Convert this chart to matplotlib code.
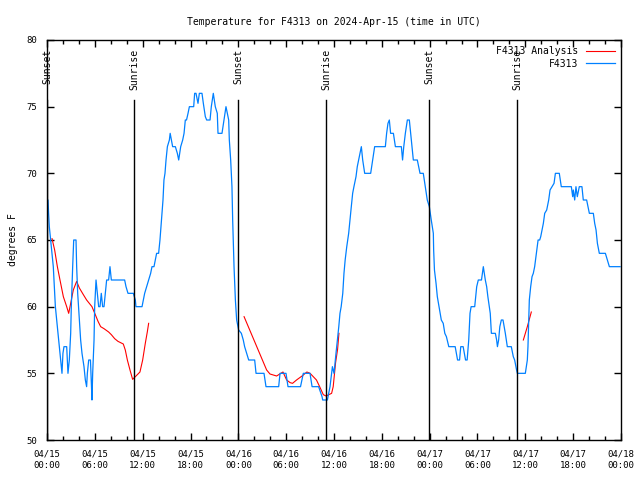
import numpy as np
import matplotlib
matplotlib.use("Agg")
import matplotlib.pyplot as plt
from matplotlib.ticker import MultipleLocator

plt.rcParams["font.family"] = "DejaVu Sans Mono"
plt.rcParams["font.size"] = 7

# hours since 2024-04-15 00:00 UTC
obs_hours = [0.05, 0.13, 0.2, 0.29, 0.46, 0.63, 0.79, 0.88, 1.05, 1.21, 1.38, 1.55, 1.71, 1.88,
             2.0, 2.13, 2.47, 2.55, 2.63, 2.8, 2.97, 3.05, 3.22, 3.35, 3.64, 3.72, 3.85, 4.06,
             4.22, 4.39, 4.64, 4.81, 4.97, 5.06, 5.23, 5.45, 5.52, 5.58, 5.64, 5.73, 5.9, 5.98,
             6.15, 6.31, 6.48, 6.65, 6.81, 6.98, 7.15, 7.32, 7.48, 7.73, 7.9, 8.07, 8.15, 9.74,
             9.91, 10.16, 10.83, 11.08, 11.16, 11.92, 12.08, 12.25, 12.5, 12.75, 13.0, 13.17,
             13.42, 13.59, 13.75, 14.0, 14.17, 14.3, 14.42, 14.55, 14.67, 14.8, 14.93, 15.1,
             15.35, 15.45, 15.6, 15.76, 16.1, 16.35, 16.52, 16.77, 17.02, 17.19, 17.35, 17.5,
             17.69, 17.86, 18.4, 18.52, 18.69, 18.94, 19.11, 19.44, 19.61, 19.86, 20.03, 20.45,
             20.61, 20.86, 21.11, 21.36, 21.45, 21.95, 22.2, 22.45, 22.62, 22.79, 22.87, 23.04,
             23.2, 23.29, 23.46, 23.63, 23.79, 24.04, 24.38, 24.62, 24.79, 25.3, 26.05, 26.22,
             27.22, 27.47, 29.06, 29.23, 29.98, 30.23, 31.8, 32.15, 32.99, 33.25, 34.07, 34.5,
             34.58, 35.17, 35.5, 35.8, 36.0, 36.25, 36.6, 36.75, 36.9, 37.1, 37.25, 37.4, 37.6,
             37.84, 38.0, 38.17, 38.34, 38.5, 38.76, 38.92, 39.17, 39.43, 39.6, 39.85, 40.6,
             40.85, 41.1, 42.44, 42.6, 42.77, 42.94, 43.1, 43.45, 43.7, 44.45, 44.6, 44.75,
             44.95, 45.2, 45.45, 45.62, 45.79, 45.95, 46.45, 46.62, 46.79, 47.2, 47.45, 47.7,
             47.96, 48.2, 48.46, 48.5, 48.6, 48.8, 48.96, 49.1, 49.3, 49.46, 49.7, 49.9, 50.1,
             50.4, 51.2, 51.5, 51.75, 51.9, 52.2, 52.5, 52.7, 52.9, 53.06, 53.2, 53.65, 53.9,
             54.1, 54.5, 54.73, 54.98, 55.15, 55.3, 55.6, 55.74, 56.24, 56.4, 56.5, 56.65, 56.8,
             56.99, 57.2, 57.49, 57.74, 58.24, 58.49, 58.66, 58.9, 59.0, 60.0, 60.25, 60.33,
             60.5, 60.67, 60.84, 61.0, 61.17, 61.43, 61.6, 61.8, 61.93, 62.26, 62.43, 62.68,
             62.93, 63.1, 63.35, 63.6, 63.77, 64.26, 64.51, 65.77, 65.94, 66.02, 66.19, 66.35,
             66.52, 66.77, 67.1, 67.27, 67.69, 67.86, 68.03, 68.53, 68.7, 68.87, 69.04, 69.28,
             70.04, 70.29, 70.54, 71.88]
obs_temp = [68, 68, 67, 66, 65, 64, 63, 62, 60, 59, 58, 57, 56, 55,
            56.5, 57, 57, 56, 55, 56, 58, 60, 63, 65, 65, 63, 61, 59,
            57.5, 56.5, 55.5, 54.5, 54, 55, 56, 56, 55, 54, 53, 55, 57.5, 60,
            62, 61, 60, 60, 61, 60, 60, 61, 62, 62, 63, 62, 62, 62,
            61.5, 61, 61, 60.5, 60, 60, 60.5, 61, 61.5, 62, 62.5, 63,
            63, 63.5, 64, 64, 65, 66, 67, 68, 69.5, 70, 71, 72,
            72.5, 73, 72.5, 72, 72, 71.5, 71, 72, 72.5, 73, 74, 74,
            74.5, 75, 75, 76, 76, 75.25, 76, 76, 75.25, 74.25, 74, 74,
            75, 76, 75, 74.5, 73, 73, 74, 75, 74.5, 74, 72.5, 71,
            69, 66.5, 63, 60.5, 59, 58.25, 58, 57.5, 57, 56, 56, 55,
            55, 54, 54, 55, 55, 54, 54, 55, 55, 54, 54, 53.25,
            53, 53, 54, 55.5, 55, 56.5, 58.5, 59.5, 60, 61, 62.5, 63.5, 64.5,
            65.5, 66.5, 67.5, 68.5, 69, 69.75, 70.5, 71.25, 72, 71, 70, 70,
            71, 72, 72, 73, 73.75, 74, 73, 73, 72, 72, 71, 72,
            73, 74, 74, 73, 72, 71, 71, 70.5, 70, 70, 69, 68,
            67.5, 66.5, 65.5, 64.25, 62.75, 61.75, 60.75, 60.25, 59.5, 59, 58.75, 58, 57.75,
            57, 57, 56, 56, 57, 57, 56, 56, 57.5, 59.5, 60, 60, 61.5,
            62, 62, 63, 62, 61.5, 60.75, 59.5, 58, 58, 57.5, 57, 57.5, 58.5,
            59, 59, 58, 57, 57, 56.25, 56, 55.25, 55, 55, 56, 57,
            60.5, 61.5, 62.25, 62.5, 63, 64.25, 65, 65, 65.25, 66.25, 67, 67.25,
            68, 68.75, 69, 69.25, 70, 70, 69, 69, 68.25, 68.75, 68, 69,
            68.25, 69, 69, 68, 68, 67.5, 67, 67, 66.25, 65.75, 64.75, 64,
            64, 63.5, 63, 63]

ana_hours = [0.63, 0.96, 1.3, 1.63, 2.05, 2.47, 2.72, 2.97, 3.3, 3.72, 4.06, 4.56, 4.97,
             5.64, 6.06, 6.4, 6.73, 7.15, 7.73, 8.07, 8.49, 8.9, 9.57, 9.82, 10.08, 10.41,
             10.74, 11.08, 11.66, 12.0, 12.33, 12.58, 12.75, np.nan,
             24.72, 26.1, 27.55, 27.97, 28.8, 29.6, 30.06, 30.5, 30.8, 31.3, 31.99, 32.6,
             33.0, 33.8, 34.2, 34.66, 35.0, 35.7, 35.9, 36.2, 36.45, 36.62, np.nan,
             59.75, 60.25, 60.75]
ana_temp = [65.1, 64.25, 63, 62, 60.75, 60, 59.5, 60.25, 61.25, 61.9, 61.4, 60.9, 60.5,
            60, 59.4, 58.9, 58.5, 58.35, 58.1, 57.9, 57.6, 57.4, 57.2, 56.75, 56, 55.25,
            54.55, 54.75, 55.1, 56, 57.25, 58.1, 58.75, np.nan,
            59.25, 57.3, 55.25, 54.95, 54.8, 55.1, 54.5, 54.3, 54.25, 54.5, 54.8, 55.1,
            55, 54.5, 54, 53.4, 53.3, 53.5, 54, 55.8, 56.8, 58, np.nan,
            57.5, 58.5, 59.6]

sunset_hours = [0.05, 24.0, 47.97]
sunrise_hours = [10.93, 35.0, 59.0]

tick_hours = list(range(0, 73, 6))
tick_labels = ["04/15\n00:00", "04/15\n06:00", "04/15\n12:00", "04/15\n18:00",
               "04/16\n00:00", "04/16\n06:00", "04/16\n12:00", "04/16\n18:00",
               "04/17\n00:00", "04/17\n06:00", "04/17\n12:00", "04/17\n18:00",
               "04/18\n00:00"]

fig = plt.figure(figsize=(6.4, 4.8), dpi=100)
ax = fig.add_axes([47/640, 40/480, 574/640, 400/480])

ax.plot(ana_hours, ana_temp, color="#ff0000", lw=0.8, label="F4313 Analysis")
ax.plot(obs_hours, obs_temp, color="#0080ff", lw=0.9, label="F4313")

for h in sunset_hours:
    ax.axvline(h, ymin=0, ymax=0.85, color="black", lw=1)
    ax.text(h, 0.977, "Sunset", rotation=90, ha="center", va="top",
            transform=ax.get_xaxis_transform())
for h in sunrise_hours:
    ax.axvline(h, ymin=0, ymax=0.85, color="black", lw=1)
    ax.text(h, 0.977, "Sunrise", rotation=90, ha="center", va="top",
            transform=ax.get_xaxis_transform())

ax.set_xlim(0, 72)
ax.set_ylim(50, 80)
ax.set_xticks(tick_hours)
ax.set_xticklabels(tick_labels)
for lbl in ax.get_xticklabels():
    lbl.set_linespacing(1.3)
ax.xaxis.set_minor_locator(MultipleLocator(2))
ax.yaxis.set_major_locator(MultipleLocator(5))
ax.tick_params(which="both", direction="in", top=True, right=True, width=1, labelsize=6.5)
ax.tick_params(which="major", length=5)
ax.tick_params(which="minor", length=3)
ax.tick_params(axis="x", pad=7)
ax.tick_params(axis="y", pad=7)
for s in ax.spines.values():
    s.set_linewidth(1)

ax.set_ylabel("degrees F", labelpad=6)
ax.set_title("Temperature for F4313 on 2024-Apr-15 (time in UTC)", fontsize=7, pad=11)

ax.legend(loc="upper right", frameon=False, markerfirst=False, handlelength=3.0,
          handletextpad=0.7, labelspacing=0.25, borderaxespad=0.25)

fig.savefig("out.png", dpi=100)
